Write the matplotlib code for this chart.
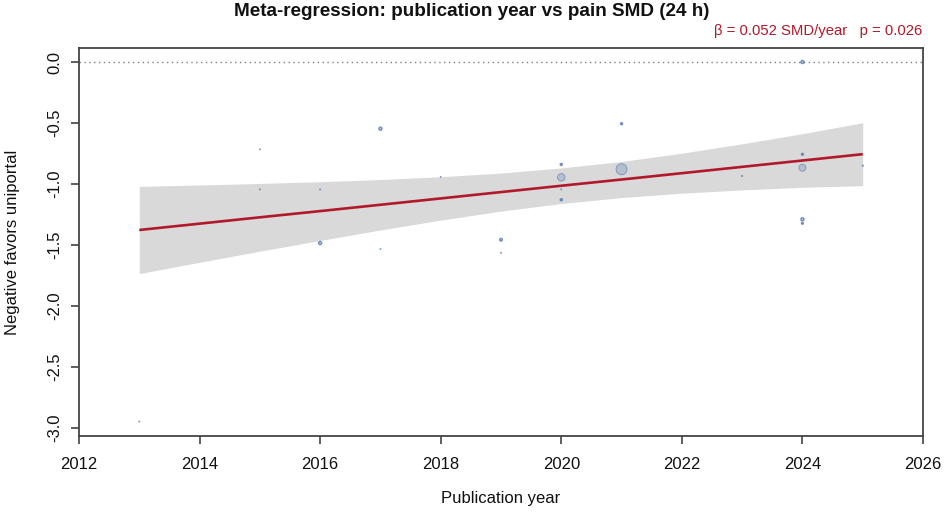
import matplotlib
matplotlib.use("Agg")
import matplotlib.pyplot as plt
import numpy as np

# ---- data ----
study_year = [2013, 2015, 2015, 2016, 2016, 2017, 2017, 2018, 2019, 2019,
              2020, 2020, 2020, 2020, 2021, 2021, 2023, 2024, 2024, 2024,
              2024, 2024, 2025]
study_smd = [-2.95, -0.716, -1.045, -1.045, -1.485, -0.547, -1.534, -0.943, -1.458, -1.565,
             -0.84, -0.946, -1.045, -1.13, -0.506, -0.88, -0.935, 0.0, -0.757, -0.867,
             -1.29, -1.323, -0.85]
study_weight = [1.2, 1.2, 1.2, 1.2, 3.0, 3.0, 1.2, 1.2, 2.6, 1.2,
                2.0, 7.5, 1.2, 2.0, 2.0, 11.0, 1.5, 3.0, 1.8, 7.0,
                3.0, 1.8, 1.5]

fit_year = [2013, 2014, 2015, 2016, 2017, 2018, 2019, 2020, 2021, 2022, 2023, 2024, 2025]
fit_est = [-1.378, -1.326, -1.274, -1.223, -1.171, -1.119, -1.067, -1.015, -0.964,
           -0.912, -0.860, -0.808, -0.756]
fit_lo = [-1.736, -1.643, -1.552, -1.464, -1.378, -1.297, -1.223, -1.161, -1.112,
          -1.076, -1.049, -1.028, -1.014]
fit_hi = [-1.020, -1.009, -0.996, -0.982, -0.964, -0.941, -0.911, -0.869, -0.816,
          -0.748, -0.671, -0.588, -0.498]

x_ticks = [2012, 2014, 2016, 2018, 2020, 2022, 2024, 2026]
y_ticks = [0.0, -0.5, -1.0, -1.5, -2.0, -2.5, -3.0]

title = "Meta-regression: publication year vs pain SMD (24 h)"
annot = "\u03b2 = 0.052 SMD/year   p = 0.026"
xlabel = "Publication year"
ylabel = "Negative favors uniportal"

plt.rcParams['font.family'] = ['Liberation Sans', 'DejaVu Sans']

W, H = 944, 520
fig = plt.figure(figsize=(W / 100, H / 100), dpi=100)
ax = fig.add_axes([79 / W, 1 - 436 / H, (923 - 79) / W, (436 - 48) / H])

ax.set_xlim(2012, 2026)
ax.set_ylim(-3.068, 0.115)

ax.axhline(0, color='#7f7f7f', lw=1.0, ls=(0, (1, 2.5)), zorder=1)
ax.fill_between(fit_year, fit_lo, fit_hi, color='#d9d9d9', lw=0, zorder=2)
ax.plot(fit_year, fit_est, color='#b2182b', lw=1.9, zorder=3, solid_capstyle='butt')

sizes = [(w * 0.72) ** 2 for w in study_weight]
edge_w = [0.5 if w < 1.6 else (1.1 if w <= 3.5 else 0.5) for w in study_weight]
ax.scatter(study_year, study_smd, s=sizes, marker='o',
           facecolor=(0.42, 0.55, 0.72, 0.32), edgecolor=(0.27, 0.42, 0.66, 0.7),
           linewidths=edge_w, zorder=4)

ax.set_xticks(x_ticks)
ax.set_xticklabels([str(t) for t in x_ticks])
ax.set_yticks(y_ticks)
ax.set_yticklabels([f"{t:.1f}" for t in y_ticks], rotation=90, va='center')
ax.tick_params(axis='both', direction='out', length=6, width=1.1, color='#333333',
               labelsize=12, labelcolor='#111111')
ax.tick_params(axis='x', pad=9)
ax.tick_params(axis='y', pad=6)
for sp in ax.spines.values():
    sp.set_color('#444444')
    sp.set_linewidth(1.3)

fig.text(472 / W, 1 - 12 / H, title, ha='center', va='center', fontsize=13.6,
         fontweight='bold', color='#111111')
fig.text(922 / W, 1 - 31 / H, annot, ha='right', va='center', fontsize=10.7,
         color='#b2182b')
fig.text(501 / W, 1 - 498 / H, xlabel, ha='center', va='center', fontsize=12,
         color='#111111')
fig.text(13 / W, 1 - 242 / H, ylabel, ha='center', va='center', fontsize=12,
         rotation=90, color='#111111')

fig.savefig("out.png", dpi=100)
